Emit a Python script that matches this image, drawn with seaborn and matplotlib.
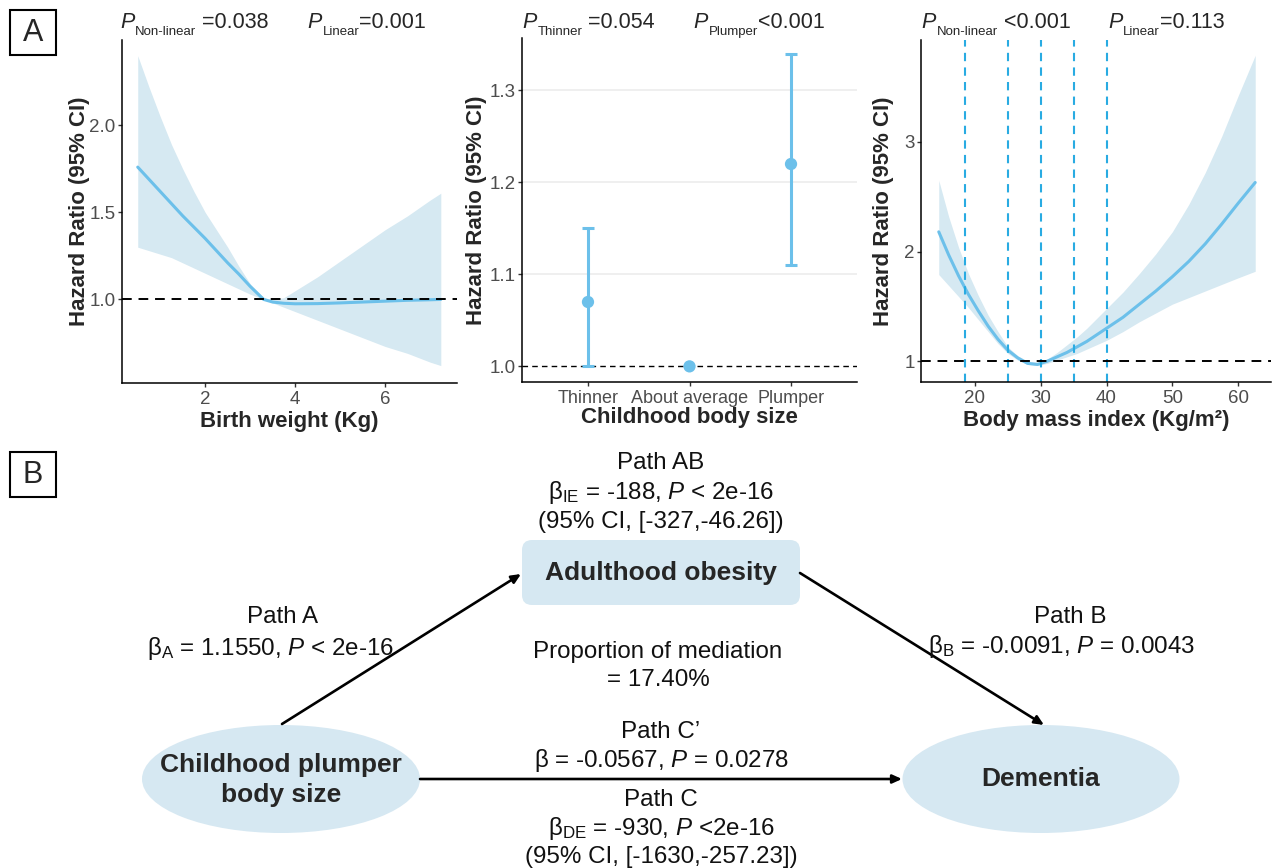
import numpy as np
import pandas as pd
import matplotlib
matplotlib.use("Agg")
import matplotlib.pyplot as plt
import seaborn as sns
from matplotlib.patches import Ellipse, FancyBboxPatch, Rectangle

# ---- data ----
# panel 1: birth weight spline
bw_x = [0.5, 0.75, 1.0, 1.25, 1.5, 1.75, 2.0, 2.25, 2.5, 2.75, 3.0, 3.3, 3.5, 3.75, 4.0,
        4.5, 5.0, 5.5, 6.0, 6.5, 7.0, 7.24]
bw_hr = [1.76, 1.69, 1.62, 1.55, 1.48, 1.415, 1.35, 1.28, 1.21, 1.145, 1.075, 1.00, 0.985, 0.978, 0.975,
         0.976, 0.98, 0.985, 0.99, 0.995, 0.998, 1.00]
bw_hi = [2.40, 2.22, 2.05, 1.89, 1.75, 1.62, 1.50, 1.40, 1.30, 1.19, 1.09, 1.01, 1.00, 1.01, 1.05,
         1.13, 1.22, 1.31, 1.40, 1.48, 1.57, 1.61]
bw_lo = [1.30, 1.28, 1.26, 1.24, 1.21, 1.18, 1.15, 1.12, 1.09, 1.06, 1.03, 1.00, 0.98, 0.955, 0.93,
         0.88, 0.83, 0.78, 0.73, 0.69, 0.64, 0.62]

# panel 2: childhood body size
size_cat = ["Thinner", "About average", "Plumper"]
size_hr = [1.07, 1.00, 1.22]
size_lo = [1.00, 1.00, 1.11]
size_hi = [1.15, 1.00, 1.34]

# panel 3: BMI spline
bmi_x = [14.5, 16, 17.5, 19, 20.5, 22, 23.5, 25, 26.5, 28, 29.5, 31, 32.5, 34, 35.5, 37, 38.5,
         40, 42.5, 45, 47.5, 50, 52.5, 55, 57.5, 60, 62.6]
bmi_hr = [2.18, 1.97, 1.78, 1.61, 1.46, 1.32, 1.20, 1.10, 1.03, 0.98, 0.97, 1.00, 1.04, 1.08, 1.13,
          1.18, 1.24, 1.30, 1.40, 1.52, 1.64, 1.77, 1.91, 2.07, 2.25, 2.44, 2.63]
bmi_hi = [2.65, 2.32, 2.04, 1.80, 1.60, 1.42, 1.27, 1.13, 1.05, 1.00, 0.99, 1.02, 1.08, 1.15, 1.22,
          1.30, 1.39, 1.48, 1.63, 1.80, 1.98, 2.18, 2.43, 2.72, 3.05, 3.42, 3.79]
bmi_lo = [1.79, 1.69, 1.59, 1.49, 1.38, 1.27, 1.16, 1.07, 1.01, 0.97, 0.96, 0.98, 1.01, 1.04, 1.07,
          1.11, 1.15, 1.19, 1.27, 1.36, 1.44, 1.52, 1.58, 1.64, 1.70, 1.76, 1.82]
bmi_cuts = [18.5, 25, 30, 35, 40]

LINE = "#6CC0EA"
FILL = "#D6E9F2"
VLINE = "#29ABE2"
NODE = "#D6E8F2"

sns.set_style("ticks")
plt.rcParams["font.family"] = ["Liberation Sans", "DejaVu Sans"]
plt.rcParams["mathtext.fontset"] = "custom"
plt.rcParams["mathtext.rm"] = "Liberation Sans"
plt.rcParams["mathtext.it"] = "Liberation Sans:italic"
plt.rcParams["mathtext.bf"] = "Liberation Sans:bold"

W, H = 1276, 868
fig = plt.figure(figsize=(W / 100, H / 100), dpi=100)
renderer = fig.canvas.get_renderer()


def px_axes(l, t, r, b):
    return fig.add_axes([l / W, 1 - b / H, (r - l) / W, (b - t) / H])


# overlay for diagram and labels
dax = fig.add_axes([0, 0, 1, 1])
dax.set_xlim(0, W)
dax.set_ylim(H, 0)
dax.axis("off")


def style_axes(ax, ylab_x, xsize=13.5):
    sns.despine(ax=ax)
    for s in ["left", "bottom"]:
        ax.spines[s].set_linewidth(1.1)
        ax.spines[s].set_color("black")
    ax.tick_params(axis="both", colors="#333333", labelcolor="#4D4D4D", length=3, width=1)
    ax.tick_params(axis="y", labelsize=13.5, pad=1.5)
    ax.tick_params(axis="x", labelsize=xsize, pad=3)
    ax.set_ylabel("Hazard Ratio (95% CI)", fontsize=16, fontweight="bold")
    ax.yaxis.set_label_coords(ylab_x, 0.5)


# ---- panel 1 ----
ax1 = px_axes(122, 40, 457, 383)
ax1.fill_between(bw_x, bw_lo, bw_hi, color=FILL, lw=0)
sns.lineplot(x=bw_x, y=bw_hr, ax=ax1, color=LINE, lw=2.2)
ax1.axhline(1.0, color="black", ls=(0, (5, 3.5)), lw=1.4)
ax1.set_xlim(0.15, 7.6)
ax1.set_ylim(0.52, 2.49)
ax1.set_xticks([2, 4, 6])
ax1.set_yticks([1.0, 1.5, 2.0])
ax1.set_yticklabels(["1.0", "1.5", "2.0"])
style_axes(ax1, -0.095)
ax1.set_xlabel("Birth weight (Kg)", fontsize=16, fontweight="bold", labelpad=2)

# ---- panel 2 ----
ax2 = px_axes(522, 38, 857, 382)
for yv in [1.1, 1.2, 1.3]:
    ax2.axhline(yv, color="#EBEBEB", lw=1.1, zorder=0)
ax2.axhline(1.0, color="black", ls=(0, (4, 3)), lw=1.0, zorder=1)
df2 = pd.DataFrame({"cat": size_cat, "hr": size_hr, "lo": size_lo, "hi": size_hi})
for i, row in df2.iterrows():
    if row["hi"] > row["lo"]:
        ax2.errorbar(i, row["hr"], yerr=[[row["hr"] - row["lo"]], [row["hi"] - row["hr"]]],
                     fmt="none", ecolor=LINE, elinewidth=2.2, capsize=4.5, capthick=2.2, zorder=2)
sns.scatterplot(data=df2, x="cat", y="hr", ax=ax2, color=LINE, s=78, edgecolor="none", zorder=3)
ax2.set_xlim(-0.65, 2.65)
ax2.set_ylim(0.983, 1.357)
ax2.set_yticks([1.0, 1.1, 1.2, 1.3])
ax2.set_yticklabels(["1.0", "1.1", "1.2", "1.3"])
style_axes(ax2, -0.104, xsize=13)
ax2.set_xlabel("Childhood body size", fontsize=16, fontweight="bold", labelpad=0)

# ---- panel 3 ----
ax3 = px_axes(921, 40, 1271, 382)
ax3.fill_between(bmi_x, bmi_lo, bmi_hi, color=FILL, lw=0)
sns.lineplot(x=bmi_x, y=bmi_hr, ax=ax3, color=LINE, lw=2.2)
for c in bmi_cuts:
    ax3.axvline(c, color=VLINE, ls=(0, (4, 3)), lw=1.5)
ax3.axhline(1.0, color="black", ls=(0, (5, 3.5)), lw=1.4)
ax3.set_xlim(11.8, 65.0)
ax3.set_ylim(0.81, 3.93)
ax3.set_xticks([20, 30, 40, 50, 60])
ax3.set_yticks([1, 2, 3])
style_axes(ax3, -0.077)
ax3.set_xlabel("Body mass index (Kg/m²)", fontsize=16, fontweight="bold", labelpad=2)


# ---- P values above panels ----
def p_label(x, y, sub, rest, size=15.5, subsize=9.5):
    t = dax.text(x, y, "P", fontsize=size, style="italic", ha="left", va="baseline")
    x += t.get_window_extent(renderer).width + 1
    t = dax.text(x, y + 7, sub, fontsize=subsize, ha="left", va="baseline")
    x += t.get_window_extent(renderer).width
    dax.text(x, y, rest, fontsize=size, ha="left", va="baseline")


p_label(120, 28, "Non-linear", " =0.038")
p_label(307, 28, "Linear", "=0.001")
p_label(522, 28, "Thinner", " =0.054")
p_label(693, 28, "Plumper", "<0.001")
p_label(921, 28, "Non-linear", " <0.001")
p_label(1108, 28, "Linear", "=0.113")

# ---- panel letters ----
for (x0, y0, lab) in [(10, 10, "A"), (10, 452, "B")]:
    dax.add_patch(Rectangle((x0, y0), 46, 45, fill=False, lw=1.5, ec="black"))
    dax.text(x0 + 23, y0 + 23, lab, fontsize=22, ha="center", va="center")

# ---- mediation diagram ----
dax.add_patch(Ellipse((281, 779), 278, 108, fc=NODE, ec="none"))
dax.add_patch(Ellipse((1041, 779), 277, 108, fc=NODE, ec="none"))
dax.add_patch(FancyBboxPatch((522, 540), 278, 65, boxstyle="round,pad=0,rounding_size=10",
                             fc=NODE, ec="none"))
dax.text(281, 780, "Childhood plumper\nbody size", fontsize=19, fontweight="bold",
         ha="center", va="center", linespacing=1.3)
dax.text(1041, 779, "Dementia", fontsize=19, fontweight="bold", ha="center", va="center")
dax.text(661, 573, "Adulthood obesity", fontsize=19, fontweight="bold", ha="center", va="center")

arrow = dict(arrowstyle="-|>,head_length=0.55,head_width=0.25", color="black", lw=1.9,
             shrinkA=0, shrinkB=0)
dax.annotate("", xy=(521, 574), xytext=(282, 724), arrowprops=arrow)
dax.annotate("", xy=(1044, 725), xytext=(800, 573), arrowprops=arrow)
dax.annotate("", xy=(902, 779), xytext=(420, 779), arrowprops=arrow)

fs = 17.4
labels = [
    (661, 463, "Path AB"),
    (661, 493, r"β$_{\text{IE}}$ = -188, $\mathit{P}$ < 2e-16"),
    (661, 522, "(95% CI, [-327,-46.26])"),
    (283, 617, "Path A"),
    (270, 648, r"β$_{\text{A}}$ = 1.1550, $\mathit{P}$ < 2e-16"),
    (1070, 617, "Path B"),
    (1062, 647, r"β$_{\text{B}}$ = -0.0091, $\mathit{P}$ = 0.0043"),
    (658, 652, "Proportion of mediation"),
    (658, 680, "= 17.40%"),
    (661, 732, "Path C’"),
    (661, 760, r"β = -0.0567, $\mathit{P}$ = 0.0278"),
    (661, 800, "Path C"),
    (661, 828, r"β$_{\text{DE}}$ = -930, $\mathit{P}$ <2e-16"),
    (661, 857, "(95% CI, [-1630,-257.23])"),
]
for x, y, s in labels:
    dax.text(x, y, s, fontsize=fs, ha="center", va="center", color="#111111")

fig.savefig("out.png", dpi=100)
